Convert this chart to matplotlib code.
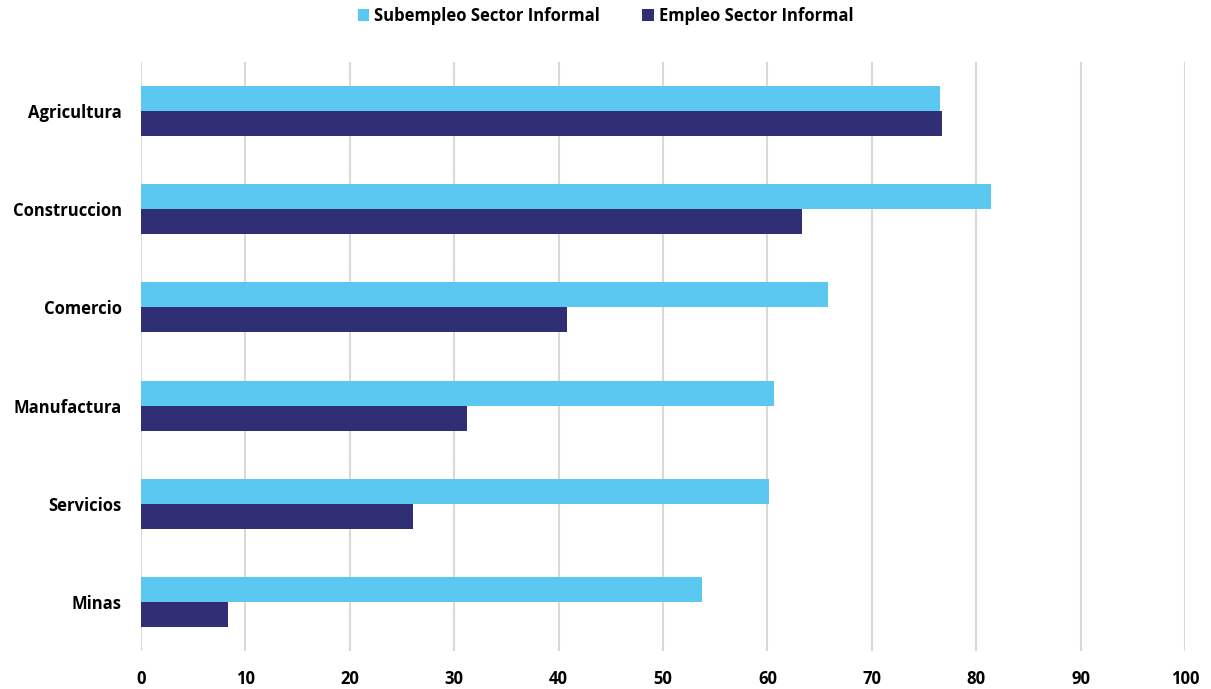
import matplotlib.pyplot as plt
import numpy as np

# datos
sectores = ['Agricultura', 'Construccion', 'Comercio', 'Manufactura', 'Servicios', 'Minas']
subempleo = [76.5, 81.4, 65.8, 60.6, 60.2, 53.7]
empleo = [76.7, 63.3, 40.8, 31.2, 26.1, 8.3]
ticks_x = list(range(0, 101, 10))

plt.rcParams['font.family'] = ['Open Sans', 'DejaVu Sans']

fig = plt.figure(figsize=(12.11, 6.89), dpi=100)
ax = fig.add_axes([141 / 1211, 1 - 651 / 689, 1044 / 1211, 589 / 689])

y = np.arange(len(sectores))
h = 0.255
ax.barh(y - h / 2, subempleo, height=h, color='#5BC8F2', label='Subempleo Sector Informal', zorder=3)
ax.barh(y + h / 2, empleo, height=h, color='#302E74', label='Empleo Sector Informal', zorder=3)

ax.set_ylim(len(sectores) - 0.5, -0.5)
ax.set_xlim(0, 100)
ax.set_yticks(y)
ax.set_yticklabels(sectores, fontsize=12, fontweight='bold')
ax.set_xticks(ticks_x)
ax.set_xticklabels([str(t) for t in ticks_x], fontsize=12, fontweight='bold')
ax.tick_params(axis='both', length=0)
ax.tick_params(axis='x', pad=14)
ax.tick_params(axis='y', pad=14)
ax.grid(axis='x', color='#D9D9D9', linewidth=1.5, zorder=0)
for s in ax.spines.values():
    s.set_visible(False)

fig.legend(loc='upper center', bbox_to_anchor=(0.5, 1.012), ncol=2, frameon=False,
           prop={'size': 12, 'weight': 'bold'}, handlelength=0.7, handleheight=0.7,
           handletextpad=0.3, columnspacing=2.5)

plt.savefig('out.png', dpi=100)
